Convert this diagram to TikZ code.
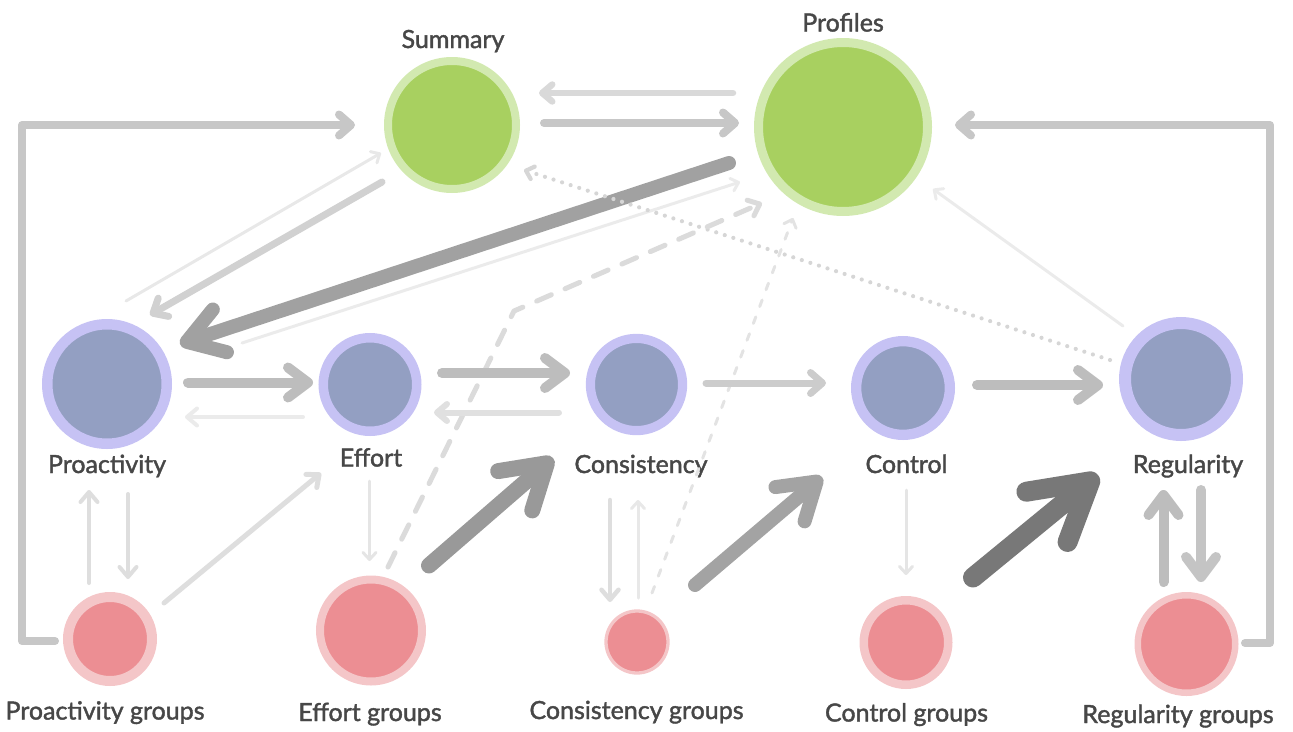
\documentclass[tikz,border=0pt]{standalone}
\usepackage{fontspec}
\setmainfont{Lato}
\newfontfamily\lblfam{Lato}[FakeBold=1.6]
\usetikzlibrary{arrows.meta}

\definecolor{grnin}{HTML}{A8D060}
\definecolor{grnring}{HTML}{D2E9B0}
\definecolor{bluin}{HTML}{939FC2}
\definecolor{bluring}{HTML}{C6C2F4}
\definecolor{redin}{HTML}{EC8E93}
\definecolor{redring}{HTML}{F4C6C8}

\newcommand{\lblfont}{\lblfam\fontsize{25}{30}\selectfont}

\tikzset{
  bub/.style 2 args={circle, inner sep=0pt, outer sep=0pt, minimum size=#1pt, line width=#2pt},
  gnode/.style={fill=grnin, draw=grnring},
  bnode/.style={fill=bluin, draw=bluring},
  rnode/.style={fill=redin, draw=redring},
  lbl/.style={text=black!72, font=\lblfont, anchor=base, inner sep=0pt},
  link/.style 2 args={line width=#1pt, draw=#2, line cap=round, line join=round},
  tA/.style={-{Straight Barb[length=7pt,width=13pt,round]}},
  tB/.style={-{Straight Barb[length=10pt,width=17pt,round]}},
  tC/.style={-{Straight Barb[length=12pt,width=21pt,round]}},
  tD/.style={-{Straight Barb[length=20pt,width=30pt,round]}},
  tE/.style={-{Straight Barb[length=35pt,width=45pt,round]}},
  tF/.style={-{Straight Barb[length=42pt,width=52pt,round]}},
  tG/.style={-{Straight Barb[length=56pt,width=65pt,round]}},
}

\begin{document}
\begin{tikzpicture}[x=1pt,y=-1pt]
\useasboundingbox (0,0) rectangle (1293,731);

% top row
\node[bub={128}{8}, gnode] (sum) at (452,125) {};
\node[bub={169}{9}, gnode] (prof) at (843,127) {};

% middle row
\node[bub={119.5}{10.5}, bnode] (pact) at (107,384) {};
\node[bub={93.5}{9.5}, bnode] (eff) at (370,384.5) {};
\node[bub={92.2}{9.2}, bnode] (cons) at (636.5,384.5) {};
\node[bub={93.7}{10.3}, bnode] (ctrl) at (903,388) {};
\node[bub={112}{12}, bnode] (reg) at (1181,379) {};

% groups
\node[bub={84}{10}, rnode] (pactg) at (110,639) {};
\node[bub={102}{8}, rnode] (effg) at (371,630.5) {};
\node[bub={62}{3.3}, rnode] (consg) at (637,642) {};
\node[bub={84.5}{8.5}, rnode] (ctrlg) at (906,642.5) {};
\node[bub={97.5}{6.5}, rnode] (regg) at (1186.5,644) {};

\node[lbl] (sumlbl) at (453,48) {Summary};
\node[lbl] (proflbl) at (843,31.5) {Profiles};
\node[lbl] (pactlbl) at (107,473) {Proactivity};
\node[lbl] (efflbl) at (371,466.5) {Effort};
\node[lbl] (conslbl) at (641,473) {Consistency};
\node[lbl] (ctrllbl) at (906.5,473) {Control};
\node[lbl] (reglbl) at (1188,473) {Regularity};
\node[lbl] (pactglbl) at (105,719.5) {Proactivity groups};
\node[lbl] (effglbl) at (370,721) {Effort groups};
\node[lbl] (consglbl) at (636.5,719) {Consistency groups};
\node[lbl] (ctrlglbl) at (906.5,721.5) {Control groups};
\node[lbl] (regglbl) at (1178,723) {Regularity groups};

% side loops
\draw[link={8}{black!22}, tC] ([shift={(-55,2)}]pactg.center) -- ++(-33,0) |- ([shift={(-97,0)}]sum.center);
\draw[link={8}{black!22}, tC] ([shift={(58.5,-1)}]regg.center) -- ++(25,0) |- ([shift={(112,-2)}]prof.center);

% summary <-> profiles
\draw[link={6.5}{black!15}, tB] ([shift={(-110,-34)}]prof.center) -- ([shift={(87,-32)}]sum.center);
\draw[link={8}{black!22}, tC] ([shift={(92,-2)}]sum.center) -- ([shift={(-104,-4)}]prof.center);

% top <-> proactivity
\draw[link={14}{black!37}, tE] ([shift={(-114,36)}]prof.center) -- ([shift={(73,-40)}]pact.center);
\draw[link={3}{black!8}, tA] ([shift={(135,-41)}]pact.center) -- ([shift={(-103,55)}]prof.center);
\draw[link={7}{black!18}, tC] ([shift={(-70,57)}]sum.center) -- ([shift={(43,-69)}]pact.center);
\draw[link={3}{black!9}, tA] ([shift={(19,-83)}]pact.center) -- ([shift={(-71,28)}]sum.center);

% dotted and dashed
\coordinate (kink) at (514,311);
\draw[link={4.2}{black!16}, tA, dash pattern=on 0pt off 9pt] ([shift={(-71,-19)}]reg.center) -- ([shift={(72,45)}]sum.center);
\draw[link={5}{black!14}, tB, dash pattern=on 16pt off 15pt] ([shift={(17,-63.5)}]effg.center) -- (kink) -- ([shift={(-81,76)}]prof.center);
\draw[link={3}{black!11}, tA, dash pattern=on 7pt off 11pt] ([shift={(15,-49)}]consg.center) -- ([shift={(-50,91)}]prof.center);
\draw[link={3}{black!8}, tA] ([shift={(-58,-53)}]reg.center) -- ([shift={(90,62)}]prof.center);

% along the middle row
\draw[link={10}{black!26}, tD] ([shift={(81,-1.5)}]pact.center) -- ([shift={(-57,-2)}]eff.center);
\draw[link={4}{black!8}, tB] ([shift={(-67,32.5)}]eff.center) -- ([shift={(78,33)}]pact.center);
\draw[link={10}{black!26}, tD] ([shift={(72,-11.5)}]eff.center) -- ([shift={(-66.5,-11.5)}]cons.center);
\draw[link={6}{black!12}, tB] ([shift={(-77.5,28)}]cons.center) -- ([shift={(64,28)}]eff.center);
\draw[link={7}{black!20}, tC] ([shift={(69.5,-1.5)}]cons.center) -- ([shift={(-77,-5)}]ctrl.center);
\draw[link={10}{black!26}, tD] ([shift={(74,-3)}]ctrl.center) -- ([shift={(-78,6)}]reg.center);

% groups <-> middle row
\draw[link={4}{black!13}, tB] ([shift={(21,110)}]pact.center) -- ([shift={(18,-60)}]pactg.center);
\draw[link={4}{black!13}, tB] ([shift={(-21,-56)}]pactg.center) -- ([shift={(-18,106)}]pact.center);
\draw[link={5}{black!13}, tB] ([shift={(54,-36)}]pactg.center) -- ([shift={(-49,88.5)}]eff.center);
\draw[link={3}{black!10}, tA] ([shift={(-0.5,96.5)}]eff.center) -- ([shift={(-1.5,-69.5)}]effg.center);
\draw[link={16}{black!40}, tF] ([shift={(58,-65)}]effg.center) -- ([shift={(-83.5,73.5)}]cons.center);
\draw[link={4.5}{black!13}, tB] ([shift={(-26.5,115.5)}]cons.center) -- ([shift={(-27,-40)}]consg.center);
\draw[link={3}{black!9}, tA] ([shift={(1,-44)}]consg.center) -- ([shift={(1.5,115.5)}]cons.center);
\draw[link={14}{black!36}, tE] ([shift={(58,-57)}]consg.center) -- ([shift={(-81,89)}]ctrl.center);
\draw[link={3}{black!10}, tA] ([shift={(3,102)}]ctrl.center) -- ([shift={(0,-67.5)}]ctrlg.center);
\draw[link={20}{black!53}, tG] ([shift={(67,-65)}]ctrlg.center) -- ([shift={(-83,96)}]reg.center);
\draw[link={10}{black!26}, tD] ([shift={(-23,-62)}]regg.center) -- ([shift={(-17.5,111)}]reg.center);
\draw[link={10}{black!23}, tD] ([shift={(20,111)}]reg.center) -- ([shift={(14.5,-62)}]regg.center);
\end{tikzpicture}
\end{document}
